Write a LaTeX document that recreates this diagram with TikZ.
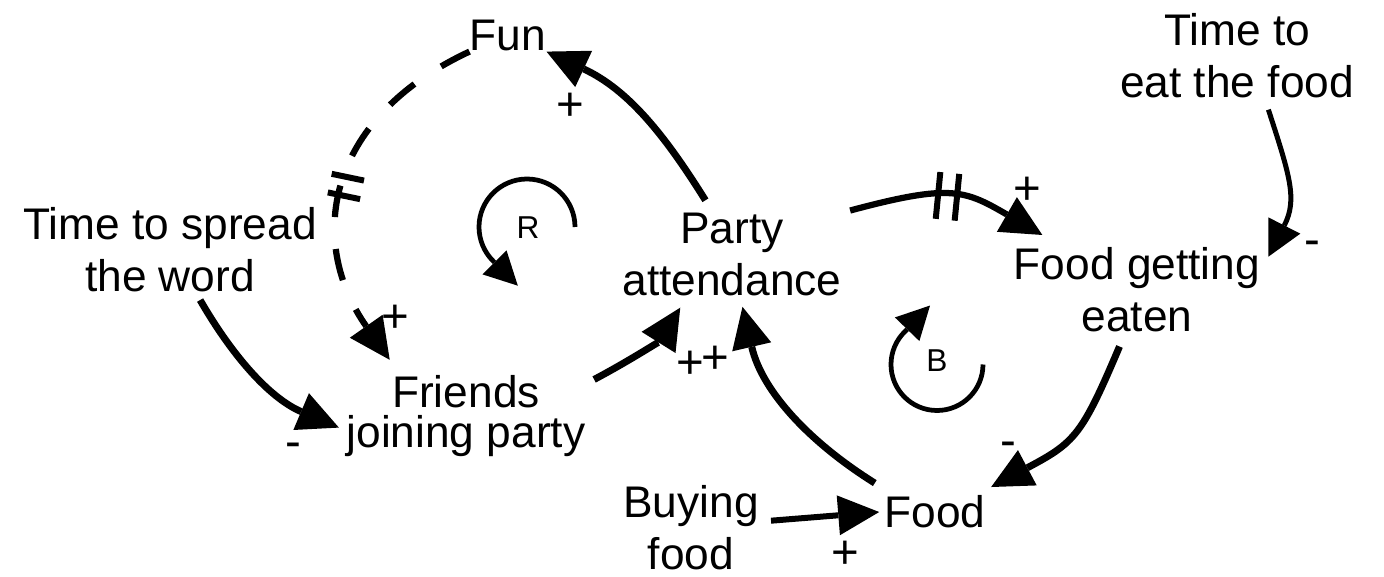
\documentclass[tikz,border=0pt]{standalone}
\usepackage{fontspec}
\setmainfont{Liberation Sans}
\usetikzlibrary{arrows.meta,decorations.markings}

\begin{document}
\begin{tikzpicture}[
  x=0.2mm, y=0.2mm,
  every node/.style={inner sep=0pt, align=center, font=\fontsize{25.2}{29.6}\selectfont},
  qty/.style={anchor=north},
  polarity/.style={font=\fontsize{27}{30}\selectfont},
  looplabel/.style={font=\fontsize{18}{20}\selectfont},
  link/.style={line width=1.4mm, -{Triangle[length=8.2mm,width=8mm,line width=0pt]}},
  thinlink/.style={line width=1mm, -{Triangle[length=7mm,width=7.2mm,line width=0pt]}},
  loopsym/.style={line width=0.95mm, -{Triangle[length=6.6mm,width=6.8mm,line width=0pt]}},
  delay/.style 2 args={postaction={decorate, decoration={markings,
    mark=at position #1 with {\draw[-, solid, line width=1.2mm, shorten <=0pt, shorten >=0pt]
      (-1.9mm,-#2) -- (-1.9mm,#2) (1.9mm,-#2) -- (1.9mm,#2);}}}}
]
\useasboundingbox (0,0) rectangle (1384,-577);
\node[qty] (fun) at (508,-20) {Fun};
\node[qty] (spread) at (170,-207) {Time to spread\\the word};
\node[qty] (friends) at (466,-375) {Friends\\[-6.8pt]joining party};
\node[qty] (party) at (732,-213) {Party\\attendance};
\node[qty] (eaten) at (1137,-247) {Food getting\\eaten};
\node[qty] (eattime) at (1237,-13) {Time to\\eat the food};
\node[qty] (buying) at (691,-485) {Buying\\food};
\node[qty] (food) at (935,-495) {Food};
% causal links, the two delayed ones carry a double bar
\draw[link, shorten <=3mm] (party.114) to[out=122, in=-25] (fun.south east);
\draw[link, line width=1.25mm, dash pattern=on 6.4mm off 6.4mm, shorten >=3.7mm,
  looseness=1.25, delay={0.485}{3.3mm}] (fun.south west) to[out=205, in=125] (friends.148);
\draw[link, shorten <=1.8mm, shorten >=1.6mm] (spread.-59) to[out=-60, in=157] (friends.187);
\draw[link, shorten <=1.9mm, shorten >=2.6mm] (friends.15) to[out=28, in=-122] (party.223);
\draw[link, shorten <=4.5mm, shorten >=2.1mm] (food.158) to[out=148, in=-77] (party.-79);
\draw[link, line width=1.25mm, shorten <=1.9mm, shorten >=4.8mm, looseness=1.3,
  delay={0.46}{4.7mm}] (party.21) to[out=15, in=150] (eaten.150);
\draw[thinlink, shorten <=2.4mm, shorten >=3.5mm, looseness=1.2] (eattime.-57) to[out=-72, in=63] (eaten.8);
\draw[link, shorten <=3.1mm, shorten >=3.4mm, looseness=1.3] (eaten.255) to[out=-113, in=28] (food.22);
\draw[link, line width=1.2mm, shorten <=2.4mm, shorten >=1mm] (buying.5) -- (food.west);
\node[looplabel] (rtag) at (528,-228) {R};
\draw[loopsym] (rtag.center) ++(47,1) arc[start angle=0, end angle=225, radius=48] -- ++(-45:35);
\node[looplabel] (btag) at (937,-361) {B};
\draw[loopsym] (btag.center) ++(46,-3.5) arc[start angle=0, end angle=-226, radius=46] -- ++(46:36);
\node[polarity] (funpol) at (570,-107) {+};
\node[polarity] (friendspol) at (395,-319) {+};
\node[polarity] (spreadpol) at (293,-450) {-};
\node[polarity] (partypolA) at (690,-365) {+};
\node[polarity] (partypolB) at (715,-360) {+};
\node[polarity] (eatenpol) at (1027,-191) {+};
\node[polarity] (eattimepol) at (1312,-248) {-};
\node[polarity] (foodpolA) at (1008,-449) {-};
\node[polarity] (foodpolB) at (845,-555) {+};
\end{tikzpicture}
\end{document}
